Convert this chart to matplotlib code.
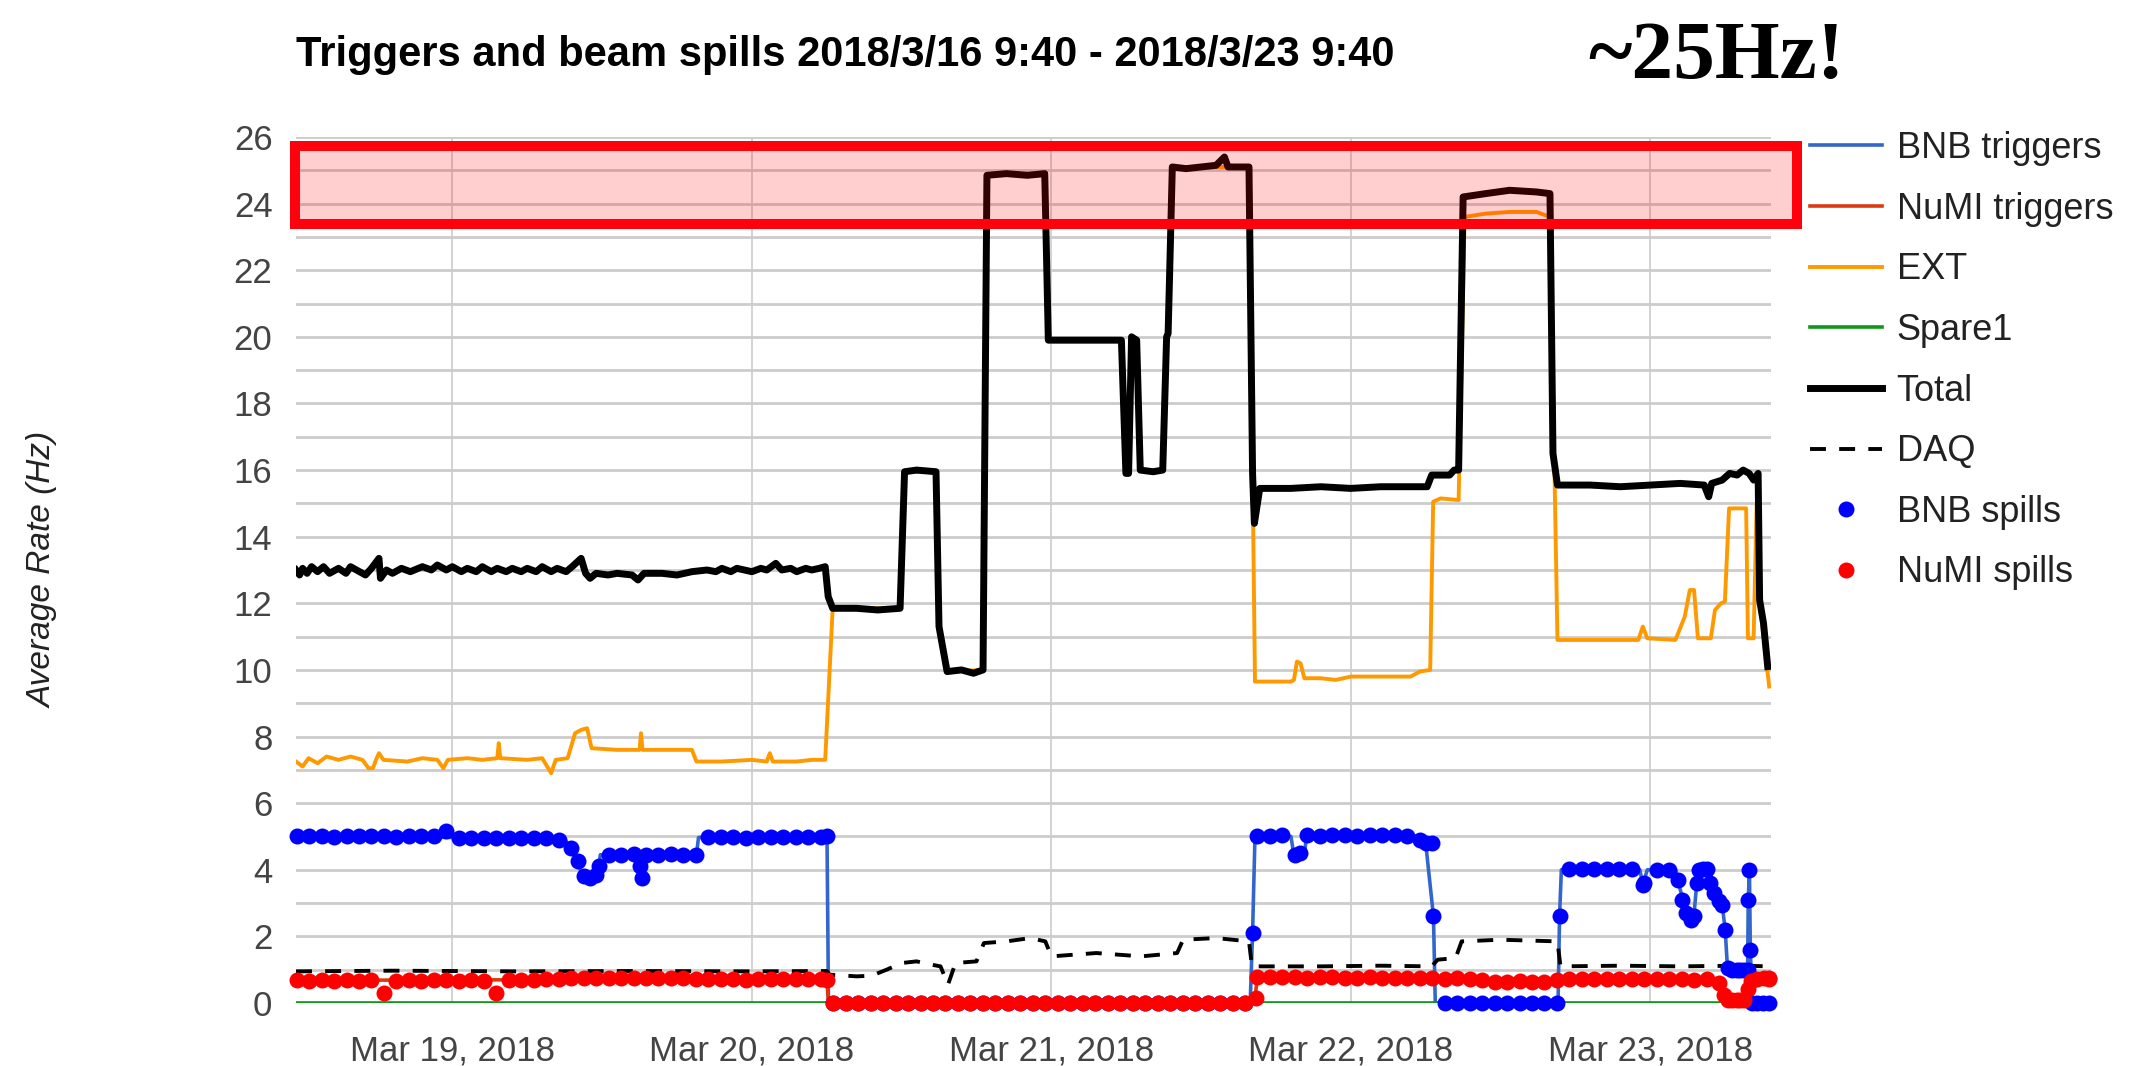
from datetime import datetime

import matplotlib
matplotlib.use("Agg")
import matplotlib.dates as mdates
import numpy as np
from matplotlib import pyplot as plt
from matplotlib.patches import Rectangle

W, H = 2129, 1066

# all times are day-of-month in March 2018 (19.5 = Mar 19, 12:00)
T_START, T_END = 18.478, 23.403

total = [
    (18.478, 13.0), (18.49, 12.85), (18.50, 13.05), (18.515, 12.9), (18.53, 13.1),
    (18.55, 12.95), (18.57, 13.1), (18.59, 12.9), (18.62, 13.05), (18.645, 12.9),
    (18.66, 13.1), (18.69, 12.95), (18.71, 12.85), (18.73, 13.05), (18.755, 13.35),
    (18.76, 12.75), (18.78, 13.0), (18.80, 12.9), (18.83, 13.05), (18.86, 12.95),
    (18.90, 13.1), (18.93, 13.0), (18.95, 13.15), (18.98, 13.0), (19.0, 13.1),
    (19.03, 12.95), (19.05, 13.05), (19.08, 12.95), (19.10, 13.1), (19.13, 12.95),
    (19.15, 13.05), (19.18, 12.95), (19.20, 13.05), (19.23, 12.95), (19.25, 13.05),
    (19.28, 12.95), (19.30, 13.1), (19.33, 12.95), (19.35, 13.05), (19.38, 12.95),
    (19.40, 13.1), (19.43, 13.35), (19.445, 12.9), (19.46, 12.75), (19.48, 12.9),
    (19.52, 12.85), (19.55, 12.9), (19.60, 12.85), (19.62, 12.7), (19.64, 12.9),
    (19.70, 12.9), (19.75, 12.85), (19.80, 12.95), (19.85, 13.0), (19.88, 12.95),
    (19.90, 13.05), (19.93, 12.95), (19.95, 13.05), (20.0, 12.95), (20.03, 13.05),
    (20.05, 13.0), (20.08, 13.2), (20.10, 13.0), (20.13, 13.05), (20.15, 12.95),
    (20.18, 13.05), (20.20, 13.0), (20.225, 13.05), (20.245, 13.1), (20.255, 12.2),
    (20.27, 11.85), (20.35, 11.85), (20.42, 11.8), (20.495, 11.85), (20.51, 15.95),
    (20.55, 16.0), (20.615, 15.95), (20.625, 11.3), (20.652, 9.95), (20.70, 10.0),
    (20.74, 9.9), (20.772, 10.0), (20.785, 24.85), (20.85, 24.9), (20.92, 24.85),
    (20.978, 24.9), (20.99, 19.9), (21.10, 19.9), (21.234, 19.9), (21.249, 15.9),
    (21.258, 15.9), (21.268, 20.0), (21.285, 19.9), (21.297, 16.0), (21.34, 15.95),
    (21.372, 16.0), (21.385, 20.0), (21.39, 20.1), (21.404, 25.1), (21.45, 25.05),
    (21.50, 25.1), (21.55, 25.15), (21.578, 25.4), (21.59, 25.1), (21.66, 25.1),
    (21.672, 15.9), (21.678, 14.4), (21.696, 15.45), (21.80, 15.45), (21.90, 15.5),
    (22.0, 15.45), (22.10, 15.5), (22.255, 15.5), (22.27, 15.85), (22.33, 15.85),
    (22.345, 16.0), (22.36, 16.0), (22.375, 24.2), (22.45, 24.3), (22.53, 24.4),
    (22.62, 24.35), (22.665, 24.3), (22.675, 16.5), (22.69, 15.55), (22.80, 15.55),
    (22.90, 15.5), (23.0, 15.55), (23.10, 15.6), (23.18, 15.55), (23.195, 15.2),
    (23.205, 15.6), (23.24, 15.7), (23.265, 15.9), (23.29, 15.85), (23.31, 16.0),
    (23.33, 15.9), (23.345, 15.7), (23.36, 15.9), (23.365, 12.1), (23.378, 11.4),
    (23.392, 10.1),
]

ext = [
    (18.478, 7.25), (18.50, 7.1), (18.52, 7.35), (18.55, 7.2), (18.58, 7.4),
    (18.62, 7.3), (18.66, 7.4), (18.70, 7.3), (18.72, 7.05), (18.735, 7.05),
    (18.745, 7.3), (18.755, 7.5), (18.77, 7.3), (18.85, 7.25), (18.90, 7.35),
    (18.95, 7.3), (18.97, 7.05), (18.985, 7.3), (19.05, 7.35), (19.10, 7.3),
    (19.15, 7.35), (19.155, 7.8), (19.16, 7.35), (19.25, 7.3), (19.30, 7.35),
    (19.33, 6.9), (19.345, 7.3), (19.385, 7.35), (19.41, 8.1), (19.43, 8.2),
    (19.45, 8.25), (19.465, 7.65), (19.55, 7.6), (19.625, 7.6), (19.63, 8.1),
    (19.635, 7.6), (19.70, 7.6), (19.80, 7.6), (19.815, 7.25), (19.90, 7.25),
    (20.0, 7.3), (20.05, 7.25), (20.06, 7.5), (20.07, 7.25), (20.15, 7.25),
    (20.20, 7.3), (20.245, 7.3), (20.27, 11.85), (20.495, 11.85), (20.51, 15.95),
    (20.615, 15.95), (20.625, 11.3), (20.652, 9.95), (20.772, 10.0), (20.785, 24.85),
    (20.978, 24.9), (20.99, 19.9), (21.234, 19.9), (21.249, 15.9), (21.258, 15.9),
    (21.268, 20.0), (21.285, 19.9), (21.297, 16.0), (21.372, 16.0), (21.385, 20.0),
    (21.404, 25.1), (21.66, 25.1), (21.672, 15.9), (21.68, 9.65), (21.80, 9.65),
    (21.81, 9.7), (21.82, 10.25), (21.832, 10.2), (21.845, 9.75), (21.90, 9.75),
    (21.95, 9.7), (22.0, 9.8), (22.10, 9.8), (22.20, 9.8), (22.23, 9.95),
    (22.265, 10.0), (22.275, 15.05), (22.30, 15.15), (22.36, 15.1), (22.38, 23.6),
    (22.45, 23.7), (22.53, 23.75), (22.62, 23.75), (22.665, 23.6), (22.69, 10.9),
    (22.80, 10.9), (22.90, 10.9), (22.96, 10.9), (22.975, 11.3), (22.99, 10.95),
    (23.084, 10.9), (23.115, 11.6), (23.132, 12.4), (23.146, 12.4), (23.159, 10.95),
    (23.202, 10.95), (23.216, 11.8), (23.236, 12.0), (23.249, 12.05), (23.263, 14.85),
    (23.32, 14.85), (23.326, 10.95), (23.345, 10.95), (23.355, 15.0), (23.366, 12.1),
    (23.378, 11.0), (23.397, 9.5),
]

bnb_trig_t = [18.478, 19.37, 19.395, 19.418, 19.437, 19.485, 19.494, 19.625, 19.631,
              19.637, 19.815, 19.822, 20.251, 20.256, 21.664, 21.672, 21.68, 21.80,
              21.81, 21.845, 21.852, 22.22, 22.25, 22.276, 22.282, 22.692, 22.697,
              22.703, 22.965, 22.975, 22.99, 23.084, 23.10, 23.126, 23.145, 23.155,
              23.162, 23.20, 23.213, 23.24, 23.25, 23.258, 23.325, 23.327, 23.331,
              23.334, 23.34, 23.40]
bnb_trig_v = [5.0, 4.95, 4.7, 4.25, 3.75, 3.8, 4.45, 4.45, 3.75, 4.45, 4.45, 4.97, 5.0,
              0.0, 0.0, 2.1, 5.0, 5.0, 4.45, 4.45, 5.02, 5.02, 4.8, 2.6, 0.0, 0.0, 2.6,
              4.0, 4.0, 3.55, 4.0, 4.0, 3.4, 2.55, 2.55, 3.6, 4.0, 4.0, 3.3, 2.95, 2.2,
              1.0, 1.0, 3.1, 4.0, 1.6, 0.0, 0.0]

numi_trig_t = [18.478, 20.25, 20.256, 21.678, 21.688, 23.225, 23.25, 23.315, 23.335, 23.40]
numi_trig_v = [0.68, 0.72, 0.0, 0.0, 0.76, 0.7, 0.08, 0.1, 0.7, 0.75]

spare1_t = [18.478, 23.40]
spare1_v = [0.0, 0.0]

daq_t = [18.478, 18.8, 19.2, 19.6, 20.0, 20.25, 20.26, 20.35, 20.4, 20.45, 20.5, 20.55,
         20.6, 20.63, 20.655, 20.68, 20.75, 20.775, 20.85, 20.93, 20.98, 21.0, 21.15,
         21.3, 21.42, 21.44, 21.55, 21.66, 21.67, 21.9, 22.1, 22.27, 22.29, 22.35,
         22.37, 22.5, 22.69, 22.70, 22.9, 23.1, 23.3, 23.40]
daq_v = [0.95, 0.97, 0.95, 0.96, 0.95, 0.96, 0.85, 0.8, 0.82, 1.0, 1.2, 1.25, 1.15, 1.1,
         0.55, 1.2, 1.25, 1.8, 1.85, 1.95, 1.85, 1.4, 1.5, 1.4, 1.5, 1.9, 1.95, 1.85,
         1.1, 1.1, 1.12, 1.1, 1.3, 1.35, 1.85, 1.9, 1.85, 1.1, 1.12, 1.1, 1.12, 1.1]

# spill rates, one reading per hour starting at SPILL_T0
SPILL_T0 = 18.48
bnb_spill = [
    5.0, 5.02, 5.0, 4.98, 5.0, 5.02, 5.0, 5.0, 4.98, 5.0, 5.02, 5.0,
    5.15, 4.95, 4.96, 4.95, 4.94, 4.96, 4.95, 4.95, 4.94, 4.9,
    4.65, 3.8, 3.85, 4.45, 4.45, 4.47, 4.45, 4.44, 4.46, 4.45, 4.45,
    4.97, 4.98, 4.97, 4.96, 4.98, 4.97, 4.97, 4.98, 4.97, 4.98,
    0.0, 0.0, 0.0, 0.0, 0.0, 0.0, 0.0, 0.0, 0.0, 0.0, 0.0, 0.0, 0.0, 0.0, 0.0, 0.0, 0.0,
    0.0, 0.0, 0.0, 0.0, 0.0, 0.0, 0.0, 0.0, 0.0, 0.0, 0.0, 0.0, 0.0, 0.0, 0.0, 0.0, 0.0,
    5.0, 5.02, 5.03, 4.45, 5.03, 5.02, 5.04, 5.03, 5.02, 5.03, 5.04, 5.03, 5.02,
    4.9, 4.8, 0.0, 0.0, 0.0, 0.0, 0.0, 0.0, 0.0, 0.0, 0.0, 0.0,
    4.02, 4.03, 4.02, 4.02, 4.03, 4.02, 3.6, 4.0, 4.0, 3.1, 2.6, 4.02, 3.05,
    1.0, 1.0, 0.0, 0.0,
]
numi_spill = [
    0.68, 0.66, 0.69, 0.67, 0.68, 0.66, 0.68, 0.3,
    0.67, 0.68, 0.66, 0.68, 0.69, 0.67, 0.68, 0.66, 0.3,
    0.68, 0.69, 0.7, 0.72, 0.73,
    0.75, 0.76, 0.74, 0.75, 0.76, 0.75, 0.74, 0.76, 0.75, 0.74,
    0.72, 0.71, 0.73, 0.72, 0.7, 0.72, 0.73, 0.71, 0.72, 0.73, 0.72,
    0.0, 0.0, 0.0, 0.0, 0.0, 0.0, 0.0, 0.0, 0.0, 0.0, 0.0, 0.0, 0.0, 0.0, 0.0, 0.0, 0.0,
    0.0, 0.0, 0.0, 0.0, 0.0, 0.0, 0.0, 0.0, 0.0, 0.0, 0.0, 0.0, 0.0, 0.0, 0.0, 0.0, 0.0,
    0.78, 0.79, 0.77, 0.78, 0.76, 0.77, 0.78, 0.76, 0.75, 0.77, 0.76, 0.75, 0.74,
    0.76, 0.75, 0.73, 0.74, 0.72, 0.7,
    0.64, 0.63, 0.65, 0.63, 0.64,
    0.7, 0.72, 0.73, 0.72, 0.71, 0.73, 0.72, 0.71, 0.72, 0.73, 0.72, 0.7, 0.71,
    0.6, 0.08, 0.1, 0.72, 0.75,
]

# extra spill readings at the fast transitions
bnb_extra = [
    (19.418, 4.25), (19.46, 3.75), (19.49, 4.1), (19.628, 4.1), (19.634, 3.75),
    (20.25, 5.0), (21.672, 2.1), (21.83, 4.5), (22.25, 4.8), (22.276, 2.6),
    (22.697, 2.6), (22.975, 3.55), (23.093, 3.7), (23.12, 2.7), (23.135, 2.5),
    (23.155, 3.6), (23.162, 4.0), (23.175, 4.02), (23.20, 3.6), (23.213, 3.3),
    (23.24, 2.95), (23.25, 2.2), (23.258, 1.05), (23.29, 1.0), (23.30, 1.0),
    (23.325, 1.0), (23.327, 3.1), (23.331, 4.0), (23.334, 1.6), (23.34, 0.0),
    (23.375, 0.0),
]
numi_extra = [
    (20.25, 0.7), (21.682, 0.15), (23.245, 0.25), (23.26, 0.08), (23.29, 0.08),
    (23.30, 0.1), (23.325, 0.42), (23.335, 0.67), (23.38, 0.75), (23.395, 0.72),
]

TITLE = "Triggers and beam spills 2018/3/16 9:40 - 2018/3/23 9:40"

MARCH = mdates.date2num(datetime(2018, 3, 1))


def to_num(days):
    return MARCH + np.asarray(days, dtype=float) - 1.0


def unzip(pairs):
    t, v = zip(*pairs)
    return to_num(t), np.array(v)


def spills(grid, extra):
    t = SPILL_T0 + np.arange(len(grid)) / 24.0
    et, ev = zip(*extra)
    return to_num(np.concatenate([t, et])), np.concatenate([grid, ev])


plt.rcParams["font.family"] = ["Liberation Sans", "DejaVu Sans"]

fig = plt.figure(figsize=(W / 100, H / 100), dpi=100)
ax = fig.add_axes([296 / W, 1 - 1003 / H, (1771 - 296) / W, (1003 - 137) / H])

ax.plot(to_num(bnb_trig_t), bnb_trig_v, color="#3366cc", lw=2.6, label="BNB triggers")
ax.plot(to_num(numi_trig_t), numi_trig_v, color="#dc3912", lw=2.6, label="NuMI triggers")
ax.plot(*unzip(ext), color="#ff9900", lw=2.8, label="EXT")
ax.plot(to_num(spare1_t), spare1_v, color="#109618", lw=2.6, label="Spare1")
ax.plot(*unzip(total), color="black", lw=5.0, label="Total")
ax.plot(to_num(daq_t), daq_v, color="black", lw=2.8, dashes=(4.1, 3.4), label="DAQ")
ax.plot(*spills(bnb_spill, bnb_extra), ls="none", marker="o", ms=11.5, mew=0,
        color="#0000ff", clip_on=False, label="BNB spills")
ax.plot(*spills(numi_spill, numi_extra), ls="none", marker="o", ms=11.5, mew=0,
        color="#ff0000", clip_on=False, label="NuMI spills")

ax.set_xlim(to_num(T_START), to_num(T_END))
ax.set_ylim(0, 26)
ax.xaxis.set_major_locator(mdates.DayLocator())
ax.xaxis.set_major_formatter(mdates.DateFormatter("%b %d, %Y"))
ax.set_yticks(range(0, 27, 2))
ax.set_yticks(range(1, 26, 2), minor=True)
ax.grid(axis="y", which="both", color="#cccccc", lw=2.0)
ax.grid(axis="x", which="major", color="#cccccc", lw=1.2)
ax.set_axisbelow(True)
ax.tick_params(axis="both", which="both", length=0, labelsize=25, colors="#444444")
ax.tick_params(axis="x", pad=23)
ax.tick_params(axis="y", pad=17)
for s in ax.spines.values():
    s.set_visible(False)

# highlight box around the ~25 Hz plateaus
box = Rectangle((to_num(18.473), 23.39), to_num(23.491) - to_num(18.473), 25.74 - 23.39,
                facecolor=(1, 0, 0, 0.19), edgecolor=(1, 0, 0.05, 1), lw=7.2,
                clip_on=False, zorder=5)
ax.add_patch(box)

handles, labels = ax.get_legend_handles_labels()
fig.legend(handles, labels, loc="upper left", bbox_to_anchor=(1810 / W, 1 - 131 / H),
           frameon=False, fontsize=26, handlelength=2.0, handletextpad=0.4,
           labelspacing=0.71, borderpad=0, borderaxespad=0, labelcolor="#222222")

fig.text(43 / W, 1 - 570 / H, "Average Rate (Hz)", rotation=90, style="italic",
         fontsize=24, color="#222222", ha="center", va="center")
fig.text(296 / W, 1 - 66 / H, TITLE, fontsize=30, weight="bold", ha="left", va="baseline")
fig.text(1588 / W, 1 - 78 / H, "~25Hz!", family=["Liberation Serif"], weight="bold",
         fontsize=60, ha="left", va="baseline")

fig.savefig("out.png", dpi=100)
